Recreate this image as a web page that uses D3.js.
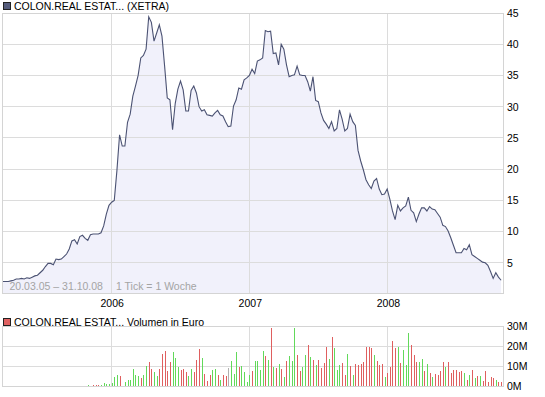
<!DOCTYPE html>
<html><head><meta charset="utf-8">
<script src="https://cdn.jsdelivr.net/npm/d3@7"></script>
<style>body{margin:0;background:#fff}svg{display:block;font-family:"Liberation Sans",Arial,sans-serif}</style>
</head><body><svg id="c" width="545" height="397"></svg>
<script>
const startDate = new Date(2005, 2, 20);
const endDate = new Date(2008, 9, 31);
// weekly closing prices (EUR), one per week from startDate
const price = [
2.0,2.0,2.0,2.1,2.2,2.4,2.4,2.5,2.4,2.6,
2.5,2.7,2.9,3.0,3.4,3.8,4.4,4.9,4.9,4.7,
5.6,5.5,5.6,6.0,6.4,7.2,8.5,8.7,8.0,9.2,
9.4,8.9,8.6,9.5,9.6,9.6,9.6,9.8,10.9,12.8,
14.2,14.7,15.0,19.8,25.5,23.7,23.7,27.5,28.8,31.7,
33.3,35.0,37.8,38.2,39.2,44.4,43.5,40.5,41.8,43.1,
41.3,36.5,31.4,31.1,26.3,30.5,32.8,34.1,32.7,29.3,
29.3,32.6,33.3,32.2,30.0,29.3,29.5,28.7,28.6,28.5,
29.0,29.4,28.7,28.5,27.6,26.8,26.9,30.1,31.1,33.0,
32.8,34.3,34.6,35.0,36.0,35.3,37.3,37.5,37.8,42.2,
42.0,42.1,38.5,38.6,36.7,40.0,39.2,36.7,34.8,35.0,
35.1,36.5,35.1,35.0,35.0,34.0,32.5,34.8,31.0,30.8,
29.0,27.8,27.2,26.5,27.6,26.1,26.5,29.5,28.0,26.1,
26.5,28.8,27.6,27.0,23.0,21.3,19.9,18.3,17.5,16.9,
18.1,18.5,16.8,15.9,16.0,16.8,15.2,13.3,11.9,14.2,
13.3,13.8,14.1,15.5,13.4,13.0,11.6,12.8,13.8,13.8,
13.3,14.0,13.6,13.5,12.9,12.3,11.0,10.8,10.1,9.0,
7.8,6.6,6.6,6.6,7.3,7.1,7.9,6.3,6.0,5.7,
5.4,5.1,5.0,4.6,3.6,2.5,3.4,2.7,2.2];
// weekly volume (million EUR), starting at price week volOffset
const volOffset = 32;
const volume = [
1.0,0.5,1.0,1.0,1.0,1.0,1.7,1.3,1.3,1.7,4.6,5.6,5.1,0.5,2.2,3.5,3.5,8.6,5.6,5.1,
4.2,5.9,10.1,12.3,8.9,7.3,5.1,8.9,16.5,17.7,7.6,12.3,17.4,14.3,9.8,8.1,
8.9,7.3,5.1,8.9,7.3,13.2,18.7,14.3,6.4,3.0,5.6,8.1,8.6,5.6,3.5,5.6,5.1,9.3,12.6,6.1,
17.4,9.8,10.1,7.3,2.5,5.6,7.6,12.6,12.6,8.1,17.7,15.2,13.2,29.5,9.8,9.3,11.5,8.6,4.7,12.6,15.2,12.6,
29.5,16.0,7.6,9.8,15.7,20.7,14.8,13.2,10.6,13.2,9.3,11.8,19.9,13.7,25.0,19.4,8.1,10.6,11.8,5.9,
16.2,10.1,5.6,11.1,10.6,11.1,12.3,19.9,19.9,19.4,15.7,12.6,10.6,11.1,4.7,6.7,9.8,22.9,19.4,19.9,
11.8,18.2,10.6,27.0,20.7,15.7,12.3,12.3,14.0,7.6,11.1,6.7,4.7,6.1,5.6,7.6,12.3,9.8,12.3,6.9,
8.1,8.1,7.3,7.6,6.7,3.5,5.6,8.1,4.2,5.1,5.1,3.0,7.6,2.5,4.7,4.2,3.4,2.2,2.5];
// 1 = up week, -1 = down week, 0 = unchanged
const volDir = [
1,1,-1,-1,-1,1,1,1,1,1, 1,1,-1,1,1,1,1,1,1,1, -1,1,1,-1,-1,1,1,-1,-1,-1, -1,-1,1,1,1,-1,
-1,-1,1,1,-1,-1,-1,1,-1,-1, -1,1,1,-1,1,-1,-1,0,1,1, 1,-1,1,1,1,1,-1,1,1,1, 1,-1,1,-1,1,-1,1,-1,1,-1, 1,1,
1,-1,-1,1,1,-1,1,-1,1,-1, -1,-1,-1,1,-1,1,1,1,-1,-1, 1,-1,1,-1,-1,-1,-1,-1,-1,-1, 1,-1,-1,-1,1,-1,-1,-1,-1,1,
-1,1,1,1,-1,-1,-1,1,1,-1, 1,-1,1,-1,-1,-1,-1,1,-1,-1, -1,-1,-1,-1,1,-1,1,-1,1,-1, 1,-1,-1,-1,-1,-1,1,-1,-1];
const yearTicks = [new Date(2006,0,1), new Date(2007,0,1), new Date(2008,0,1)];
const priceTicks = [5,10,15,20,25,30,35,40,45];
const volTicks = [0,10,20,30];
const titlePrice = "COLON.REAL ESTAT... (XETRA)";
const titleVol = "COLON.REAL ESTAT... Volumen in Euro";
const rangeText = "20.03.05 \u2013 31.10.08";
const tickText = "1 Tick = 1 Woche";

const svg = d3.select("#c");
const L = 2.5, R = 503.5;
const mTop = 13.5, mBot = 293.5, vTop = 326.5, vBot = 386.5;
const gridC = "#dcdcdc", frameC = "#d4d4d4";

const weekDate = i => d3.timeDay.offset(startDate, 7 * i);
const x = d3.scaleTime().domain([startDate, endDate]).range([3, 503]);
const y = d3.scaleLinear().domain([0, 45]).range([294, 13]);
const yv = d3.scaleLinear().domain([0, 30]).range([vBot, vTop]);
const px = v => Math.floor(v) + 0.5;

// ---- price panel
const gm = svg.append("g");
gm.append("rect").attr("x", L).attr("y", mTop).attr("width", R - L).attr("height", mBot - mTop).attr("fill", "#fff");
const pdata = price.map((v, i) => ({d: weekDate(i), v}));
gm.append("path").datum(pdata)
  .attr("d", d3.area().x(d => x(d.d)).y0(mBot).y1(d => y(d.v)))
  .attr("fill", "#f1f1fb");
gm.selectAll("line.hg").data(priceTicks).join("line")
  .attr("x1", L).attr("x2", R).attr("y1", d => px(y(d))).attr("y2", d => px(y(d)))
  .attr("stroke", gridC).attr("stroke-width", 1);
gm.selectAll("line.vg").data(yearTicks).join("line")
  .attr("x1", d => px(x(d))).attr("x2", d => px(x(d))).attr("y1", mTop).attr("y2", mBot)
  .attr("stroke", gridC).attr("stroke-width", 1);
gm.append("path").datum(pdata)
  .attr("d", d3.line().x(d => x(d.d)).y(d => y(d.v)))
  .attr("fill", "none").attr("stroke", "#4b5273").attr("stroke-width", 1.1);
gm.append("rect").attr("x", L).attr("y", mTop).attr("width", R - L).attr("height", mBot - mTop)
  .attr("fill", "none").attr("stroke", frameC);

gm.append("text").attr("x", 9.5).attr("y", 289.5).attr("font-size", 10.5).attr("fill", "#a4a4a4").text(rangeText);
gm.append("text").attr("x", 116).attr("y", 289.5).attr("font-size", 10.5).attr("fill", "#a4a4a4").text(tickText);

// right axis
const ay = svg.append("g").attr("transform", `translate(${R},0)`)
  .call(d3.axisRight(y).tickValues(priceTicks).tickSize(0).tickPadding(3.5));
ay.select(".domain").remove();
ay.selectAll("text").attr("font-size", 10.5).attr("fill", "#000").attr("font-family", "Liberation Sans, Arial, sans-serif");

// bottom axis (years)
const ax = svg.append("g").attr("transform", `translate(0,${mBot})`)
  .call(d3.axisBottom(x).tickValues(yearTicks).tickFormat(d3.timeFormat("%Y")).tickSize(0).tickPadding(6));
ax.select(".domain").remove();
ax.selectAll("text").attr("font-size", 10.5).attr("fill", "#000").attr("font-family", "Liberation Sans, Arial, sans-serif");

// legend
svg.append("rect").attr("x", 3.5).attr("y", 2.5).attr("width", 7).attr("height", 7).attr("fill", "#555c7c").attr("stroke", "#222");
svg.append("text").attr("x", 14).attr("y", 10).attr("font-size", 10.5).attr("fill", "#000").text(titlePrice);

// ---- volume panel
const gv = svg.append("g");
gv.selectAll("line.hg").data(volTicks).join("line")
  .attr("x1", L).attr("x2", R).attr("y1", d => yv(d)).attr("y2", d => yv(d))
  .attr("stroke", gridC);
gv.selectAll("line.vg").data(yearTicks).join("line")
  .attr("x1", d => px(x(d))).attr("x2", d => px(x(d))).attr("y1", vTop).attr("y2", vBot)
  .attr("stroke", gridC);
const vcol = d => d > 0 ? "#62d95a" : d < 0 ? "#df5f5f" : "#b0b0b0";
gv.selectAll("rect.bar").data(volume).join("rect")
  .attr("x", (v, k) => Math.round(x(weekDate(k + volOffset))))
  .attr("width", 1)
  .attr("y", v => yv(v))
  .attr("height", v => vBot - yv(v))
  .attr("fill", (v, k) => vcol(volDir[k]))
  .attr("shape-rendering", "crispEdges");
gv.append("rect").attr("x", L).attr("y", vTop).attr("width", R - L).attr("height", vBot - vTop)
  .attr("fill", "none").attr("stroke", frameC);
const av = svg.append("g").attr("transform", `translate(${R},0)`)
  .call(d3.axisRight(yv).tickValues(volTicks).tickFormat(d => d + "M").tickSize(0).tickPadding(3.5));
av.select(".domain").remove();
av.selectAll("text").attr("font-size", 10.5).attr("fill", "#000").attr("font-family", "Liberation Sans, Arial, sans-serif");

svg.append("rect").attr("x", 3.5).attr("y", 318.5).attr("width", 7).attr("height", 7).attr("fill", "#e06262").attr("stroke", "#222");
svg.append("text").attr("x", 14).attr("y", 326).attr("font-size", 10.5).attr("fill", "#000").text(titleVol);
</script></body></html>
